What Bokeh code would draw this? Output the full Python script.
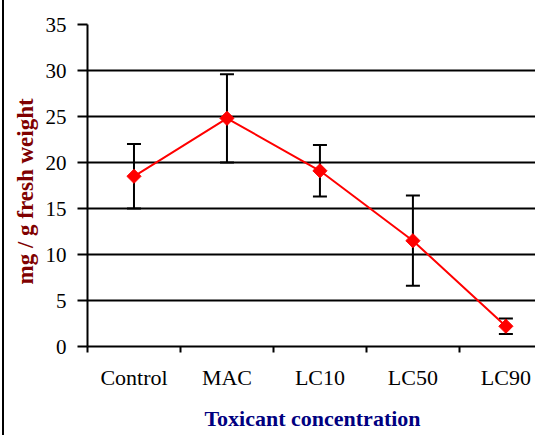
from bokeh.plotting import figure
from bokeh.models import Range1d, FixedTicker, ColumnDataSource, Whisker, TeeHead, Title
from bokeh.embed import file_html
from bokeh.resources import INLINE

categories = ["Control", "MAC", "LC10", "LC50", "LC90"]
means = [18.5, 24.8, 19.1, 11.5, 2.2]
errors = [3.5, 4.8, 2.8, 4.9, 0.85]
y_ticks = [0, 5, 10, 15, 20, 25, 30, 35]

xs = [i + 0.5 for i in range(len(categories))]
upper = [m + e for m, e in zip(means, errors)]
lower = [m - e for m, e in zip(means, errors)]
src = ColumnDataSource(dict(x=xs, y=means, upper=upper, lower=lower))

FONT = "Liberation Serif"

p = figure(width=533, height=435, output_backend="svg", toolbar_location=None,
           x_range=Range1d(0, 4.84), y_range=Range1d(0, 35),
           min_border_left=83, min_border_right=0, min_border_top=24, min_border_bottom=89)
p.styles = {"position": "absolute", "left": "2px", "top": "0px",
            "border-left": "2px solid black"}
p.outline_line_color = None
p.background_fill_color = "white"
p.border_fill_color = "white"

# grid
p.xgrid.visible = False
p.ygrid.ticker = FixedTicker(ticks=y_ticks)
p.ygrid.grid_line_color = "black"
p.ygrid.grid_line_width = 2

# y axis
p.yaxis.ticker = FixedTicker(ticks=y_ticks)
p.yaxis.axis_line_width = 2
p.yaxis.major_tick_line_width = 2
p.yaxis.major_tick_out = 10
p.yaxis.major_tick_in = 0
p.yaxis.minor_tick_line_color = None
p.yaxis.major_label_text_font = FONT
p.yaxis.major_label_text_font_size = "21px"
p.yaxis.major_label_text_color = "black"
p.yaxis.major_label_standoff = 11

ytitle = Title(text="mg / g fresh weight", align="left", offset=62, standoff=10,
               text_font=FONT, text_font_size="23px", text_font_style="bold",
               text_color="#800000")
p.add_layout(ytitle, "left")

# x axis
p.xaxis.ticker = FixedTicker(ticks=xs, minor_ticks=list(range(len(categories))))
p.xaxis.major_label_overrides = {x: c for x, c in zip(xs, categories)}
p.xaxis.axis_line_width = 2
p.xaxis.major_tick_line_color = None
p.xaxis.major_tick_out = 0
p.xaxis.major_tick_in = 0
p.xaxis.minor_tick_line_width = 2
p.xaxis.minor_tick_out = 6
p.xaxis.minor_tick_in = 0
p.xaxis.major_label_text_font = FONT
p.xaxis.major_label_text_font_size = "22px"
p.xaxis.major_label_text_color = "black"
p.xaxis.major_label_standoff = 12
p.xaxis.axis_label = "Toxicant concentration"
p.xaxis.axis_label_text_font = FONT
p.xaxis.axis_label_text_font_style = "bold"
p.xaxis.axis_label_text_font_size = "22px"
p.xaxis.axis_label_text_color = "#000080"
p.xaxis.axis_label_standoff = 13

w = Whisker(source=src, base="x", upper="upper", lower="lower", dimension="height",
            line_color="black", line_width=2, level="underlay",
            upper_head=TeeHead(size=14, line_width=2, line_color="black"),
            lower_head=TeeHead(size=14, line_width=2, line_color="black"))
p.add_layout(w)

p.line("x", "y", source=src, line_color="#FF0000", line_width=2)
p.scatter("x", "y", source=src, marker="square", angle=0.785398, size=10,
          fill_color="#FF0000", line_color="#FF0000")

open("out.html", "w").write(file_html(p, INLINE))
